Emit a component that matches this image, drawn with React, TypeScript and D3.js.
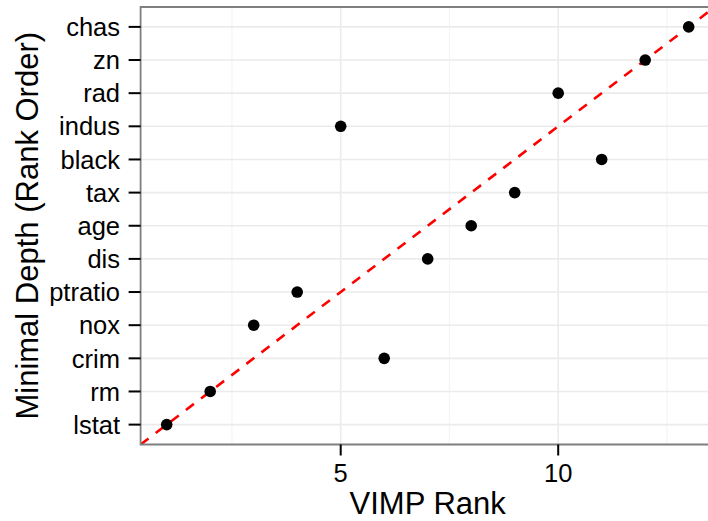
import React from "react";
import * as d3 from "d3";

const variables = ["lstat", "rm", "crim", "nox", "ptratio", "dis", "age", "tax", "black", "indus", "rad", "zn", "chas"];
const depthRank = [1, 2, 3, 4, 5, 6, 7, 8, 9, 10, 11, 12, 13];
const vimpRank = [1, 2, 6, 3, 4, 7, 8, 9, 11, 5, 10, 12, 13];
const xMajorTicks = [5, 10];
const xMinorTicks = [2.5, 7.5, 12.5];

const W = 708;
const H = 521;
const left = 140.6;
const right = 714.8;
const top = 7;
const bottom = 444.5;
const font = "'Liberation Sans', Arial, Helvetica, sans-serif";

export default function App() {
  const x = d3.scaleLinear().domain([0.4, 13.6]).range([left, right]);
  const y = d3.scaleLinear().domain([0.4, 13.6]).range([bottom, top]);
  const line = d3.line<number>().x((d) => x(d)).y((d) => y(d));
  const abline = [0.4, 13.6];
  return (
    <svg width={W} height={H} style={{ position: "absolute", left: 0, top: 0, background: "#fff" }}>
      <defs>
        <clipPath id="panel">
          <rect x={left} y={top} width={right - left} height={bottom - top} />
        </clipPath>
      </defs>
      <rect x={left} y={top} width={right - left} height={bottom - top} fill="#fff" />
      {xMinorTicks.map((t) => (
        <line key={"mn" + t} x1={x(t)} x2={x(t)} y1={top} y2={bottom} stroke="#f5f5f5" strokeWidth={1.3} />
      ))}
      {xMajorTicks.map((t) => (
        <line key={"mj" + t} x1={x(t)} x2={x(t)} y1={top} y2={bottom} stroke="#ebebeb" strokeWidth={1.6} />
      ))}
      {depthRank.map((r) => (
        <line key={"hy" + r} x1={left} x2={right} y1={y(r)} y2={y(r)} stroke="#ebebeb" strokeWidth={1.6} />
      ))}
      <g clipPath="url(#panel)">
        <path d={line(abline) || ""} stroke="#ff0000" strokeWidth={2.6} strokeDasharray="10,9" fill="none" />
        {variables.map((v, i) => (
          <circle key={v} cx={x(vimpRank[i])} cy={y(depthRank[i])} r={5.8} fill="#000" />
        ))}
      </g>
      <path
        d={`M${right},${top}H${left}V${bottom}H${right}`}
        fill="none"
        stroke="#7f7f7f"
        strokeWidth={1.8}
      />
      {variables.map((v, i) => (
        <g key={"yt" + v}>
          <line x1={left - 12} x2={left} y1={y(depthRank[i])} y2={y(depthRank[i])} stroke="#000" strokeWidth={2} />
          <text
            x={120}
            y={y(depthRank[i])}
            dy="0.36em"
            textAnchor="end"
            fontFamily={font}
            fontSize={25.5}
            fill="#000"
          >
            {v}
          </text>
        </g>
      ))}
      {xMajorTicks.map((t) => (
        <g key={"xt" + t}>
          <line x1={x(t)} x2={x(t)} y1={bottom} y2={bottom + 11} stroke="#000" strokeWidth={2} />
          <text x={x(t)} y={482} textAnchor="middle" fontFamily={font} fontSize={25.5} fill="#000">
            {t}
          </text>
        </g>
      ))}
      <text x={(left + right) / 2} y={514} textAnchor="middle" fontFamily={font} fontSize={31} fill="#000">
        VIMP Rank
      </text>
      <text
        transform={`translate(38,${(top + bottom) / 2}) rotate(-90)`}
        textAnchor="middle"
        fontFamily={font}
        fontSize={31}
        fill="#000"
      >
        Minimal Depth (Rank Order)
      </text>
    </svg>
  );
}
